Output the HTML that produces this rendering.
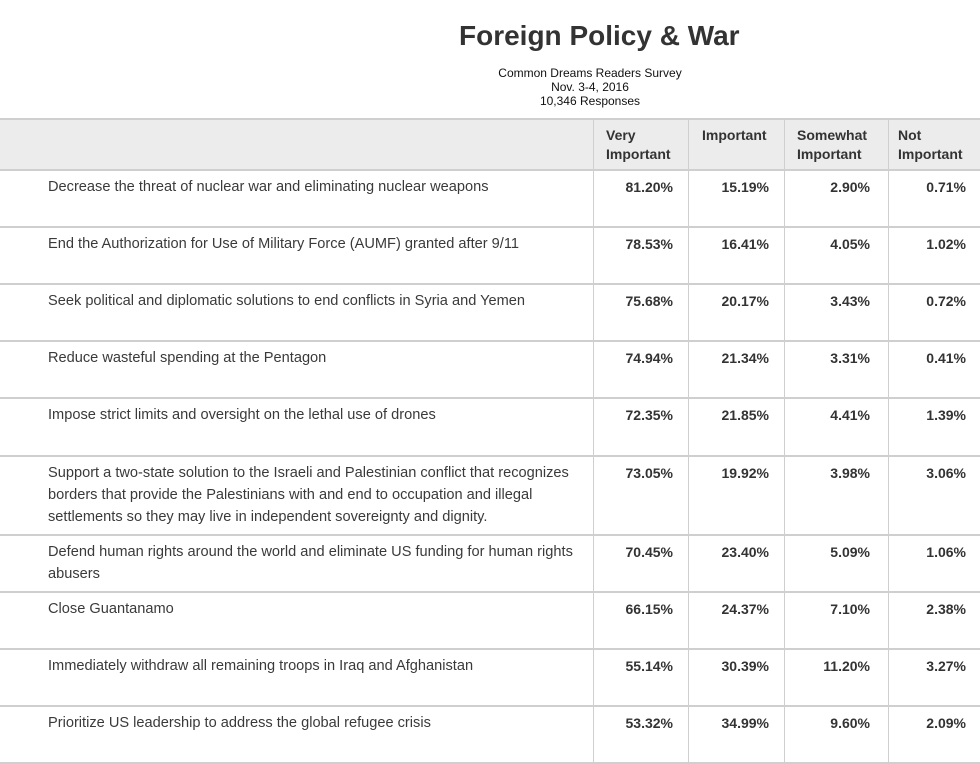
<!DOCTYPE html>
<html><head><style>
body{margin:0;width:980px;height:764px;background:#fff;font-family:"Liberation Sans",Arial,sans-serif;color:#333;position:relative;overflow:hidden}
.t{position:absolute;white-space:nowrap}
.h{position:absolute;left:0;width:980px;height:1px;background:#cfcfcf}
.v{position:absolute;width:1px;background:#cfcfcf}
.lab{position:absolute;left:48px;font-size:14.6px;line-height:22px;color:#3a3a3a;white-space:nowrap}
.n{position:absolute;font-size:14px;font-weight:bold;text-align:right;width:90px;color:#333}
.hd{position:absolute;font-size:14px;font-weight:bold;line-height:19px;color:#333}
</style></head><body>
<div class="t" style="left:459px;top:20px;font-size:28px;font-weight:bold;color:#333">Foreign Policy &amp; War</div>
<div class="t" style="left:440px;width:300px;text-align:center;top:66px;font-size:12px;line-height:14px;color:#111">Common Dreams Readers Survey<br>Nov. 3-4, 2016<br>10,346 Responses</div>
<div style="position:absolute;left:0;top:118px;width:980px;height:51px;background:#ececec"></div>
<div class="h" style="top:118px;height:2px"></div>
<div class="hd" style="left:606px;top:126px">Very<br>Important</div>
<div class="hd" style="left:702px;top:126px">Important</div>
<div class="hd" style="left:797px;top:126px">Somewhat<br>Important</div>
<div class="hd" style="left:898px;top:126px">Not<br>Important</div>
<div class="v" style="left:593px;top:118px;height:646px"></div>
<div class="v" style="left:688px;top:118px;height:646px"></div>
<div class="v" style="left:784px;top:118px;height:646px"></div>
<div class="v" style="left:888px;top:118px;height:646px"></div>
<div class="h" style="top:169px;height:2px"></div>
<div class="h" style="top:226px;height:2px"></div>
<div class="h" style="top:283px;height:2px"></div>
<div class="h" style="top:340px;height:2px"></div>
<div class="h" style="top:397px;height:2px"></div>
<div class="h" style="top:455px;height:2px"></div>
<div class="h" style="top:534px;height:2px"></div>
<div class="h" style="top:591px;height:2px"></div>
<div class="h" style="top:648px;height:2px"></div>
<div class="h" style="top:705px;height:2px"></div>
<div class="h" style="top:762px;height:2px"></div>

<div class="lab" style="top:176px">Decrease the threat of nuclear war and eliminating nuclear weapons</div>
<div class="n" style="left:583px;top:179px">81.20%</div><div class="n" style="left:679px;top:179px">15.19%</div><div class="n" style="left:780px;top:179px">2.90%</div><div class="n" style="left:876px;top:179px">0.71%</div>

<div class="lab" style="top:233px">End the Authorization for Use of Military Force (AUMF) granted after 9/11</div>
<div class="n" style="left:583px;top:236px">78.53%</div><div class="n" style="left:679px;top:236px">16.41%</div><div class="n" style="left:780px;top:236px">4.05%</div><div class="n" style="left:876px;top:236px">1.02%</div>

<div class="lab" style="top:290px">Seek political and diplomatic solutions to end conflicts in Syria and Yemen</div>
<div class="n" style="left:583px;top:293px">75.68%</div><div class="n" style="left:679px;top:293px">20.17%</div><div class="n" style="left:780px;top:293px">3.43%</div><div class="n" style="left:876px;top:293px">0.72%</div>

<div class="lab" style="top:347px">Reduce wasteful spending at the Pentagon</div>
<div class="n" style="left:583px;top:350px">74.94%</div><div class="n" style="left:679px;top:350px">21.34%</div><div class="n" style="left:780px;top:350px">3.31%</div><div class="n" style="left:876px;top:350px">0.41%</div>

<div class="lab" style="top:404px">Impose strict limits and oversight on the lethal use of drones</div>
<div class="n" style="left:583px;top:407px">72.35%</div><div class="n" style="left:679px;top:407px">21.85%</div><div class="n" style="left:780px;top:407px">4.41%</div><div class="n" style="left:876px;top:407px">1.39%</div>

<div class="lab" style="top:462px">Support a two-state solution to the Israeli and Palestinian conflict that recognizes<br>borders that provide the Palestinians with and end to occupation and illegal<br>settlements so they may live in independent sovereignty and dignity.</div>
<div class="n" style="left:583px;top:465px">73.05%</div><div class="n" style="left:679px;top:465px">19.92%</div><div class="n" style="left:780px;top:465px">3.98%</div><div class="n" style="left:876px;top:465px">3.06%</div>

<div class="lab" style="top:541px">Defend human rights around the world and eliminate US funding for human rights<br>abusers</div>
<div class="n" style="left:583px;top:544px">70.45%</div><div class="n" style="left:679px;top:544px">23.40%</div><div class="n" style="left:780px;top:544px">5.09%</div><div class="n" style="left:876px;top:544px">1.06%</div>

<div class="lab" style="top:598px">Close Guantanamo</div>
<div class="n" style="left:583px;top:601px">66.15%</div><div class="n" style="left:679px;top:601px">24.37%</div><div class="n" style="left:780px;top:601px">7.10%</div><div class="n" style="left:876px;top:601px">2.38%</div>

<div class="lab" style="top:655px">Immediately withdraw all remaining troops in Iraq and Afghanistan</div>
<div class="n" style="left:583px;top:658px">55.14%</div><div class="n" style="left:679px;top:658px">30.39%</div><div class="n" style="left:780px;top:658px">11.20%</div><div class="n" style="left:876px;top:658px">3.27%</div>

<div class="lab" style="top:712px">Prioritize US leadership to address the global refugee crisis</div>
<div class="n" style="left:583px;top:715px">53.32%</div><div class="n" style="left:679px;top:715px">34.99%</div><div class="n" style="left:780px;top:715px">9.60%</div><div class="n" style="left:876px;top:715px">2.09%</div>
</body></html>
